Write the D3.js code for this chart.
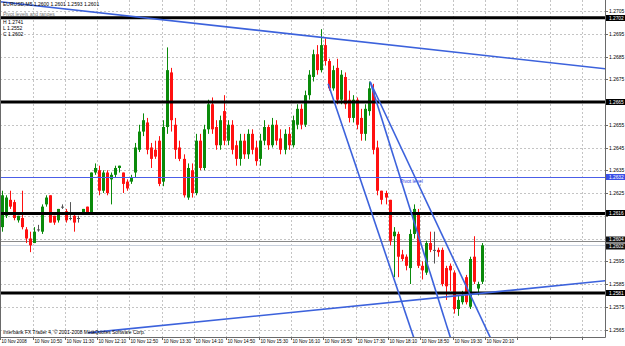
<!DOCTYPE html>
<html>
<head>
<meta charset="utf-8">
<script src="https://cdn.jsdelivr.net/npm/d3@7"></script>
<style>
body { margin: 0; background: #fff; }
svg text { font-family: "Liberation Sans", Arial, sans-serif; }
</style>
</head>
<body>
<svg id="chart" width="625" height="346"></svg>
<script>
// EURUSD M5, 10 Nov 2008, one value per bar
const opens = [
	1.2610,1.2615,1.2622,1.2621,1.2613,1.2614,1.2609,1.2605,1.2603,1.2609,
	1.2608,1.2620,1.2624,1.2615,1.2613,1.2619,1.2617,1.2614,1.2615,1.2614,
	1.2616,1.2619,1.2616,1.2634,1.2635,1.2626,1.2634,1.2631,1.2633,1.2636,
	1.2634,1.2630,1.2630,1.2634,1.2644,1.2652,1.2656,1.2645,1.2644,1.2648,
	1.2630,1.2654,1.2678,1.2655,1.2645,1.2640,1.2623,1.2635,1.2625,1.2648,
	1.2636,1.2653,1.2664,1.2654,1.2646,1.2661,1.2648,1.2655,1.2646,1.2640,
	1.2648,1.2642,1.2651,1.2645,1.2640,1.2648,1.2654,1.2646,1.2655,1.2649,
	1.2644,1.2651,1.2646,1.2655,1.2662,1.2655,1.2668,1.2676,1.2686,1.2679,
	1.2690,1.2683,1.2671,1.2680,1.2666,1.2676,1.2666,1.2658,1.2666,1.2658,
	1.2651,1.2661,1.2670,1.2645,1.2626,1.2625,1.2622,1.2606,1.2607,1.2598,
	1.2597,1.2592,1.2607,1.2616,1.2593,1.2590,1.2603,1.2600,1.2600,1.2600,
	1.2592,1.2593,1.2590,1.2574,1.2577,1.2588,1.2575,1.2597,1.2583,1.2586
]
const highs = [
	1.2626,1.2624,1.2626,1.2622,1.2615,1.2626,1.2610,1.2608,1.2610,1.2611,
	1.2620,1.2624,1.2624,1.2615,1.2618,1.2620,1.2618,1.2621,1.2616,1.2615,
	1.2618,1.2619,1.2634,1.2638,1.2637,1.2635,1.2635,1.2634,1.2637,1.2637,
	1.2634,1.2631,1.2633,1.2647,1.2655,1.2660,1.2658,1.2647,1.2648,1.2650,
	1.2657,1.2689,1.2680,1.2658,1.2648,1.2642,1.2638,1.2638,1.2651,1.2651,
	1.2655,1.2666,1.2667,1.2657,1.2659,1.2668,1.2657,1.2657,1.2648,1.2651,
	1.2651,1.2653,1.2653,1.2648,1.2651,1.2657,1.2655,1.2658,1.2657,1.2653,
	1.2653,1.2654,1.2659,1.2664,1.2664,1.2670,1.2679,1.2688,1.2690,1.2697,
	1.2693,1.2684,1.2681,1.2684,1.2679,1.2678,1.2670,1.2668,1.2667,1.2662,
	1.2664,1.2674,1.2673,1.2648,1.2626,1.2626,1.2622,1.2610,1.2608,1.2600,
	1.2598,1.2609,1.2620,1.2618,1.2595,1.2604,1.2608,1.2608,1.2601,1.2601,
	1.2593,1.2594,1.2591,1.2580,1.2582,1.2589,1.2597,1.2606,1.2586,1.2603
]
const lows = [
	1.2608,1.2614,1.2618,1.2613,1.2612,1.2609,1.2603,1.2599,1.2603,1.2608,
	1.2607,1.2619,1.2612,1.2611,1.2612,1.2618,1.2612,1.2613,1.2608,1.2612,
	1.2616,1.2616,1.2616,1.2633,1.2624,1.2625,1.2624,1.2620,1.2632,1.2634,
	1.2625,1.2626,1.2629,1.2632,1.2643,1.2650,1.2642,1.2636,1.2640,1.2628,
	1.2628,1.2651,1.2652,1.2640,1.2639,1.2623,1.2622,1.2623,1.2624,1.2635,
	1.2635,1.2651,1.2651,1.2644,1.2644,1.2646,1.2646,1.2642,1.2637,1.2637,
	1.2640,1.2640,1.2642,1.2637,1.2637,1.2646,1.2644,1.2645,1.2646,1.2642,
	1.2642,1.2644,1.2645,1.2653,1.2653,1.2654,1.2666,1.2674,1.2677,1.2678,
	1.2681,1.2670,1.2670,1.2664,1.2664,1.2662,1.2656,1.2656,1.2653,1.2648,
	1.2648,1.2659,1.2642,1.2624,1.2620,1.2620,1.2602,1.2588,1.2588,1.2595,
	1.2591,1.2585,1.2605,1.2592,1.2587,1.2589,1.2599,1.2594,1.2597,1.2584,
	1.2578,1.2582,1.2572,1.2571,1.2576,1.2576,1.2574,1.2585,1.2580,1.2585
]
const closes = [
	1.2624,1.2623,1.2619,1.2614,1.2615,1.2610,1.2605,1.2602,1.2608,1.2609,
	1.2619,1.2623,1.2612,1.2612,1.2618,1.2619,1.2613,1.2614,1.2612,1.2614,
	1.2618,1.2616,1.2634,1.2636,1.2626,1.2634,1.2625,1.2633,1.2636,1.2637,
	1.2629,1.2627,1.2632,1.2645,1.2652,1.2657,1.2644,1.2640,1.2641,1.2629,
	1.2654,1.2679,1.2657,1.2644,1.2640,1.2624,1.2636,1.2625,1.2648,1.2636,
	1.2653,1.2664,1.2653,1.2646,1.2657,1.2648,1.2655,1.2644,1.2640,1.2648,
	1.2642,1.2651,1.2644,1.2639,1.2648,1.2654,1.2646,1.2655,1.2648,1.2644,
	1.2651,1.2646,1.2657,1.2662,1.2655,1.2668,1.2677,1.2686,1.2679,1.2690,
	1.2683,1.2671,1.2679,1.2666,1.2677,1.2664,1.2658,1.2666,1.2655,1.2651,
	1.2662,1.2671,1.2644,1.2626,1.2622,1.2623,1.2604,1.2608,1.2597,1.2596,
	1.2593,1.2607,1.2618,1.2593,1.2591,1.2603,1.2600,1.2600,1.2599,1.2585,
	1.2584,1.2591,1.2574,1.2578,1.2580,1.2577,1.2596,1.2586,1.2585,1.2602
]

const timeLabels = ["10 Nov 2008","10 Nov 10:50","10 Nov 11:30","10 Nov 12:10","10 Nov 12:50",
	"10 Nov 13:30","10 Nov 14:10","10 Nov 14:50","10 Nov 15:30","10 Nov 16:10","10 Nov 16:50",
	"10 Nov 17:30","10 Nov 18:10","10 Nov 18:50","10 Nov 19:30","10 Nov 20:10"]
const barsPerLabel = 8
const totalBars = 150 // visible slots incl. the empty shift on the right

const priceTicks = [1.2705,1.2695,1.2685,1.2675,1.2665,1.2655,1.2645,1.2635,1.2625,1.2615,1.2605,1.2595,1.2585,1.2575,1.2565]
const levelPrices = [1.2702, 1.2665, 1.2616, 1.2581]
const pivotPrice = 1.2632
const bidAsk = [1.2604, 1.2602]

// trend lines: [bar, price] start, [bar, price] through which it runs
const trendLines = [
	[[-0.4, 1.27091], [149.3, 1.26796]],
	[[21.4, 1.25635], [149.3, 1.25864]],
	[[80.8, 1.26730], [101.6, 1.25635]],
	[[91.2, 1.26739], [110.7, 1.25635]],
	[[91.2, 1.26739], [120.4, 1.25635]],
]

const headerLines = ["EURUSD,M5  1.2600 1.2601 1.2593 1.2601", "Pivot levels and ranges", "H 1.2741", "L 1.2552", "C 1.2602"]

const plotW = 605, plotH = 337

const svg = d3.select("#chart")
const bars = d3.range(opens.length).map(i => ({i, o: opens[i], h: highs[i], l: lows[i], c: closes[i]}))

const x = d3.scaleLinear().domain([0, totalBars - 1]).range([1.7, 1.7 + 4.04 * (totalBars - 1)])
const y = d3.scaleLinear().domain([1.2565, 1.2705]).range([329.5, 11])
const fmt = d3.format(".4f")
const gx = d => Math.round(x(d) - 1.5) + 0.5

svg.append("defs").append("clipPath").attr("id", "plotClip")
	.append("rect").attr("x", 0).attr("y", 0).attr("width", plotW).attr("height", plotH)

const plot = svg.append("g").attr("clip-path", "url(#plotClip)")

// grid
const gridX = d3.range(0, totalBars, barsPerLabel)
plot.append("g").selectAll("line").data(gridX).join("line")
	.attr("x1", gx).attr("x2", gx)
	.attr("y1", 0).attr("y2", plotH)
	.attr("stroke", "#c4c4c4").attr("stroke-dasharray", "2,2")
plot.append("g").selectAll("line").data(priceTicks).join("line")
	.attr("x1", 0).attr("x2", plotW)
	.attr("y1", d => Math.round(y(d)) + 0.5).attr("y2", d => Math.round(y(d)) + 0.5)
	.attr("stroke", "#c4c4c4").attr("stroke-dasharray", "2,2")

// bid / ask lines
plot.append("g").selectAll("line").data(bidAsk).join("line")
	.attr("x1", 0).attr("x2", plotW)
	.attr("y1", d => Math.round(y(d)) + 0.5).attr("y2", d => Math.round(y(d)) + 0.5)
	.attr("stroke", (d, i) => i === 0 ? "#8a8a8a" : "#c8d0dc").attr("stroke-width", 1)

// candles
const candle = plot.append("g").selectAll("g").data(bars).join("g")
const colorOf = d => d.c > d.o ? "#0a8a0a" : d.c < d.o ? "#ff1010" : "#555"
candle.append("line")
	.attr("x1", d => Math.round(x(d.i)) + 0.5).attr("x2", d => Math.round(x(d.i)) + 0.5)
	.attr("y1", d => y(d.h)).attr("y2", d => y(d.l))
	.attr("stroke", colorOf)
candle.append("rect")
	.attr("x", d => Math.round(x(d.i)) - 1)
	.attr("width", 3)
	.attr("y", d => y(Math.max(d.o, d.c)))
	.attr("height", d => Math.max(1, y(Math.min(d.o, d.c)) - y(Math.max(d.o, d.c))))
	.attr("fill", colorOf)

// pivot and level lines
plot.append("line")
	.attr("x1", 0).attr("x2", plotW)
	.attr("y1", Math.round(y(pivotPrice)) + 0.5).attr("y2", Math.round(y(pivotPrice)) + 0.5)
	.attr("stroke", "#4a5ee8").attr("stroke-width", 1)
plot.append("text").attr("x", 400).attr("y", y(pivotPrice) + 6)
	.attr("font-size", 5).attr("fill", "#3040e0").text("Pivot level")

plot.append("g").selectAll("line").data(levelPrices).join("line")
	.attr("x1", 0).attr("x2", plotW)
	.attr("y1", d => y(d)).attr("y2", d => y(d))
	.attr("stroke", "#000").attr("stroke-width", 3)

// trend lines, drawn as rays from the first point through the second
plot.append("g").selectAll("line").data(trendLines).join("line")
	.attr("x1", d => x(d[0][0])).attr("y1", d => y(d[0][1]))
	.attr("x2", d => x(d[0][0]) + (x(d[1][0]) - x(d[0][0])) * 6)
	.attr("y2", d => y(d[0][1]) + (y(d[1][1]) - y(d[0][1])) * 6)
	.attr("stroke", "#3c62dc").attr("stroke-width", 1.6)

// header text
svg.append("g").selectAll("text").data(headerLines).join("text")
	.attr("x", 3).attr("y", (d, i) => [5.5, 16, 23.5, 29.5, 35.5][i])
	.attr("font-size", 5).attr("fill", (d, i) => i === 1 ? "#777" : "#000")
	.text(d => d)

svg.append("text").attr("x", 3).attr("y", 334).attr("font-size", 5).attr("fill", "#000")
	.attr("textLength", 142).attr("lengthAdjust", "spacingAndGlyphs")
	.text("Interbank FX Trader 4, © 2001-2008 MetaQuotes Software Corp.")

// frame
svg.append("line").attr("x1", plotW + 0.5).attr("x2", plotW + 0.5).attr("y1", 0).attr("y2", plotH + 0.5).attr("stroke", "#6a6a6a")
svg.append("line").attr("x1", 0).attr("x2", plotW + 0.5).attr("y1", plotH + 0.5).attr("y2", plotH + 0.5).attr("stroke", "#6a6a6a")
svg.append("line").attr("x1", 0.5).attr("x2", 0.5).attr("y1", 0).attr("y2", plotH).attr("stroke", "#6a6a6a")

// price boxes for the lines (drawn on top of the tick labels they cover)
const boxes = [
	...levelPrices.map(p => ({p, fill: "#000", dy: 0})),
	{p: pivotPrice, fill: "#3a4ee6", dy: 0},
	{p: bidAsk[0], fill: "#111", dy: -1},
	{p: bidAsk[1], fill: "#111", dy: 1},
]

// price axis, tick labels hidden where a box sits
const visibleTicks = priceTicks.filter(t => boxes.every(b => Math.abs(y(t) - y(b.p)) > 5.5))
const pAxis = svg.append("g")
pAxis.selectAll("line").data(priceTicks).join("line")
	.attr("x1", plotW).attr("x2", plotW + 3)
	.attr("y1", d => Math.round(y(d)) + 0.5).attr("y2", d => Math.round(y(d)) + 0.5)
	.attr("stroke", "#6a6a6a")
pAxis.selectAll("text").data(visibleTicks).join("text")
	.attr("x", plotW + 4).attr("y", d => y(d) + 2)
	.attr("font-size", 5).attr("fill", "#000")
	.text(fmt)

const box = svg.append("g").selectAll("g").data(boxes).join("g")
	.attr("transform", d => `translate(${plotW + 1},${Math.round(y(d.p)) + d.dy * 1.5})`)
box.append("rect").attr("x", 0).attr("y", -3).attr("width", 19).attr("height", 6).attr("fill", d => d.fill)
box.append("text").attr("x", 3).attr("y", 1.8).attr("font-size", 4.8).attr("fill", "#fff").text(d => fmt(d.p))

// time axis
const tAxis = svg.append("g")
tAxis.selectAll("line").data(gridX).join("line")
	.attr("x1", gx).attr("x2", gx)
	.attr("y1", plotH).attr("y2", plotH + 3)
	.attr("stroke", "#6a6a6a")
tAxis.selectAll("text").data(timeLabels).join("text")
	.attr("x", (d, k) => gx(k * barsPerLabel) + 1)
	.attr("y", 343)
	.attr("font-size", 5).attr("fill", "#000")
	.attr("textLength", d => d.length * 2.3).attr("lengthAdjust", "spacingAndGlyphs")
	.text(d => d)
</script>
</body>
</html>
